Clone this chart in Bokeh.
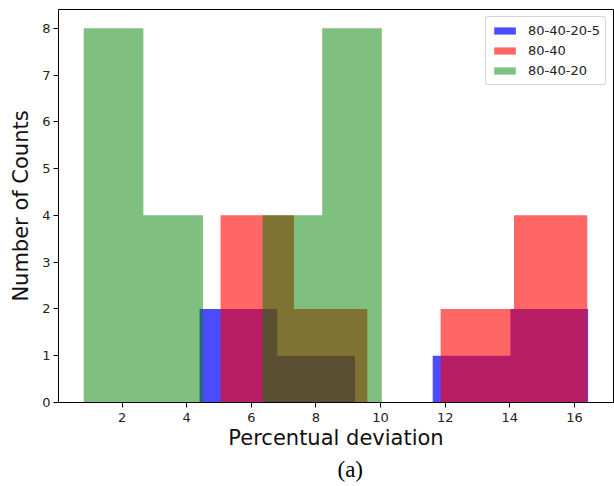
from bokeh.plotting import figure
from bokeh.models import (ColumnDataSource, Legend, LegendItem, Title, Range1d,
                          FixedTicker)
from bokeh.embed import file_html
from bokeh.resources import INLINE

# Histogram bin edges and counts for the three configurations
blue_label = "80-40-20-5"
blue_edges = [4.40, 6.805, 9.21, 11.615, 14.02, 16.425]
blue_counts = [2, 1, 0, 1, 2]

red_label = "80-40"
red_edges = [5.05, 7.32, 9.59, 11.86, 14.13, 16.40]
red_counts = [4, 2, 0, 2, 4]

green_label = "80-40-20"
green_edges = [0.815, 2.66, 4.505, 6.35, 8.195, 10.04]
green_counts = [8, 4, 0, 4, 8]

x_ticks = [2, 4, 6, 8, 10, 12, 14, 16]
y_ticks = [0, 1, 2, 3, 4, 5, 6, 7, 8]

FONT = "DejaVu Sans"

p = figure(width=614, height=486, output_backend="svg", toolbar_location=None,
           x_range=Range1d(0.034, 17.21), y_range=Range1d(0, 8.4),
           min_border_left=58, min_border_right=1, min_border_top=9,
           min_border_bottom=84)
p.background_fill_color = "white"
p.border_fill_color = "white"
p.outline_line_color = "black"
p.outline_line_width = 1
p.outline_line_alpha = 1.0
p.grid.visible = False


def step_outline(edges, counts):
    """Outline of a filled step histogram, so adjacent bins share no seam."""
    xs, ys = [edges[0]], [0]
    for i, c in enumerate(counts):
        xs += [edges[i], edges[i + 1]]
        ys += [c, c]
    xs.append(edges[-1])
    ys.append(0)
    return xs, ys


def hist(edges, counts, color, alpha):
    xs, ys = step_outline(edges, counts)
    src = ColumnDataSource(dict(x=xs, y=ys))
    return p.patch(x="x", y="y", source=src, fill_color=color,
                   fill_alpha=alpha, line_color=None)


r_blue = hist(blue_edges, blue_counts, "#0000ff", 0.7)
r_red = hist(red_edges, red_counts, "#ff0000", 0.6)
r_green = hist(green_edges, green_counts, "#008000", 0.5)

for ax in (p.xaxis[0], p.yaxis[0]):
    ax.major_tick_out = 5
    ax.major_tick_in = 0
    ax.minor_tick_out = 0
    ax.minor_tick_in = 0
    ax.axis_line_color = "black"
    ax.major_tick_line_color = "black"
    ax.major_label_text_font = FONT
    ax.major_label_text_font_size = "13px"
    ax.major_label_text_color = "#222222"
    ax.axis_label_text_font = FONT
    ax.axis_label_text_font_size = "21px"
    ax.axis_label_text_font_style = "normal"
    ax.axis_label_text_color = "#111111"

p.xaxis.ticker = FixedTicker(ticks=x_ticks)
p.yaxis.ticker = FixedTicker(ticks=y_ticks)
p.xaxis.axis_label = "Percentual deviation"
p.yaxis.axis_label = "Number of Counts"
p.xaxis.major_label_standoff = 5
p.yaxis.major_label_standoff = 3
p.xaxis.axis_label_standoff = 1
p.yaxis.axis_label_standoff = 6

legend = Legend(items=[LegendItem(label=blue_label, renderers=[r_blue]),
                       LegendItem(label=red_label, renderers=[r_red]),
                       LegendItem(label=green_label, renderers=[r_green])],
                location="top_right")
legend.margin = 7
legend.padding = 5
legend.spacing = 3
legend.glyph_width = 27
legend.glyph_height = 9
legend.label_height = 17
legend.label_standoff = 10
legend.label_text_font = FONT
legend.label_text_font_size = "13px"
legend.label_text_color = "#222222"
legend.border_line_color = "#cccccc"
legend.border_line_alpha = 0.8
legend.background_fill_alpha = 0.8
if "border_radius" in Legend.properties():
    legend.border_radius = 3
p.add_layout(legend)

caption = Title(text="(a)", align="left", text_font="Liberation Serif",
                text_font_size="23px", text_font_style="normal",
                text_color="black", offset=279, standoff=5)
p.add_layout(caption, "below")

open("out.html", "w").write(file_html(p, INLINE))
